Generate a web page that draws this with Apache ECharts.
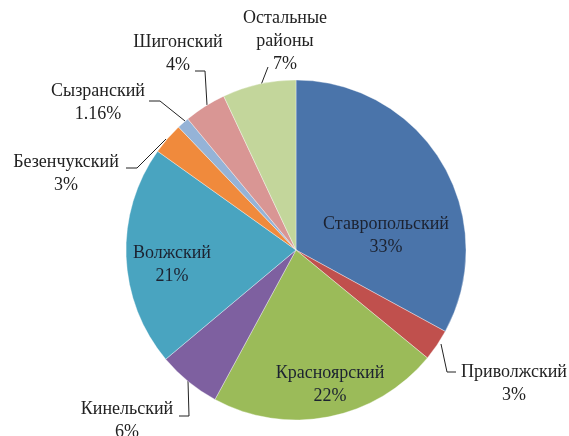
<!DOCTYPE html>
<html>
<head>
<meta charset="utf-8">
<script src="https://cdn.jsdelivr.net/npm/echarts@6/dist/echarts.min.js"></script>
<style>
  html, body { margin: 0; padding: 0; background: #fff; }
  #chart { width: 569px; height: 436px; }
</style>
</head>
<body>
<div id="chart"></div>
<script>
// districts, clockwise from 12 o'clock
const districts = ['Ставропольский', 'Приволжский', 'Красноярский', 'Кинельский', 'Волжский',
  'Безенчукский', 'Сызранский', 'Шигонский', 'Остальные районы'];
const shares = [33, 3, 22, 6, 21, 3, 1.16, 4, 7];

const colors = ['#4a74aa', '#c0504d', '#9bbb59', '#7e60a0', '#49a4c0',
  '#f08a3c', '#95b3d7', '#d99694', '#c3d69b'];
const insideLabels = ['Ставропольский', 'Красноярский', 'Волжский'];

// where each label sits (centre of text block) and its leader line, px
const labelSpots = {
  'Ставропольский': { at: [386, 236] },
  'Приволжский': { at: [514, 384], line: [[441, 344], [447, 372], [456, 372]] },
  'Красноярский': { at: [330, 385] },
  'Кинельский': { at: [127, 421], line: [[188, 381], [189, 416], [179, 416]] },
  'Волжский': { at: [172, 265] },
  'Безенчукский': { at: [66, 174], line: [[166, 139], [137, 168], [126, 168]] },
  'Сызранский': { at: [98, 103], line: [[185, 121], [160, 101], [149, 101]] },
  'Шигонский': { at: [178, 54], line: [[207, 105], [205, 71], [195, 71]] },
  'Остальные районы': { at: [285, 41], line: [[261, 85], [268, 67]] }
};

const chart = echarts.init(document.getElementById('chart'));

const items = districts.map((name, i) => ({
  name: name,
  value: shares[i],
  itemStyle: { color: colors[i] },
  label: insideLabels.includes(name) ? { color: '#1c2230' } : {},
  labelLine: { show: !insideLabels.includes(name) }
}));

chart.setOption({
  animation: false,
  series: [{
    type: 'pie',
    center: [296, 250],
    radius: 170,
    startAngle: 90,
    clockwise: true,
    avoidLabelOverlap: false,
    emphasis: { disabled: true },
    itemStyle: { borderColor: 'rgba(255,255,255,0.6)', borderWidth: 0.6 },
    label: {
      show: true,
      position: 'outside',
      fontFamily: 'Liberation Serif',
      fontSize: 18,
      lineHeight: 23,
      color: '#222',
      align: 'center',
      formatter: p => p.name.replace(' ', '\n') + '\n' + p.value + '%'
    },
    labelLine: {
      show: true,
      lineStyle: { color: '#222', width: 1 }
    },
    labelLayout: function (params) {
      const spot = labelSpots[districts[params.dataIndex]];
      const out = { x: spot.at[0], y: spot.at[1], align: 'center', verticalAlign: 'middle' };
      if (spot.line) out.labelLinePoints = spot.line;
      return out;
    },
    data: items
  }]
});
</script>
</body>
</html>
